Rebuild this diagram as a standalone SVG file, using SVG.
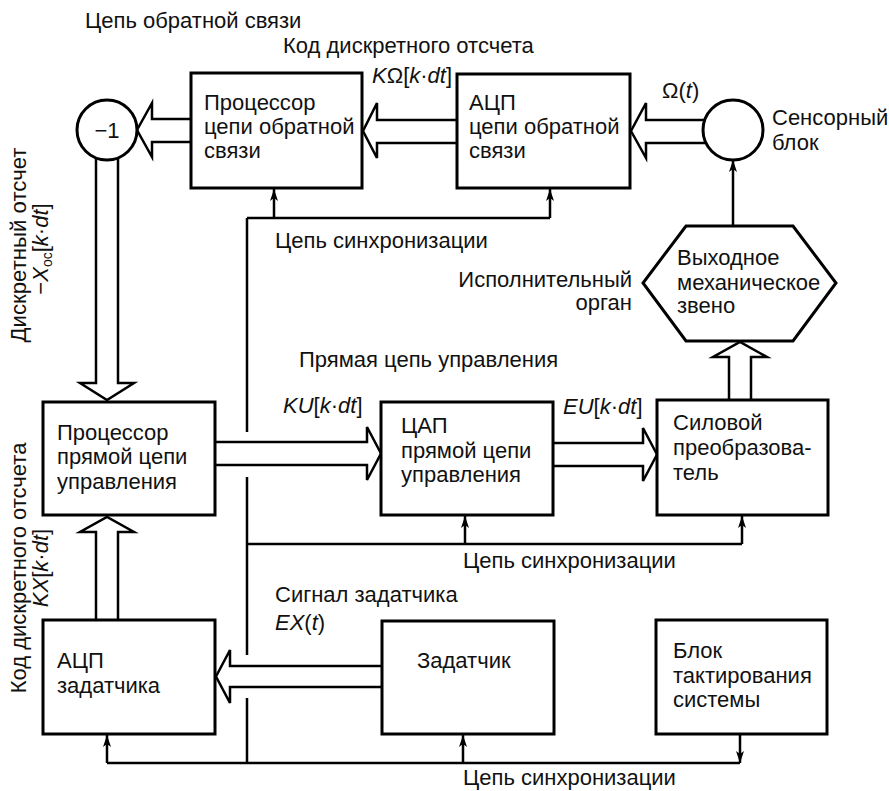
<svg xmlns="http://www.w3.org/2000/svg" width="889" height="791" viewBox="0 0 889 791">
  <style>
    .box { fill: #fff; stroke: #000; stroke-width: 3; }
    .wide { fill: #fff; stroke: #000; stroke-width: 2.5; stroke-linejoin: miter; }
    .sync { fill: none; stroke: #000; stroke-width: 2.5; }
    .tap { fill: none; stroke: #000; stroke-width: 2.5; marker-end: url(#tip); }
    text { font-family: "Liberation Sans", Arial, sans-serif; font-size: 22px; fill: #111; }
    .it { font-style: italic; }
    .sub { font-size: 14px; }
  </style>
  <defs>
    <marker id="tip" viewBox="0 0 12 8" refX="12" refY="4" markerWidth="12" markerHeight="8" orient="auto" markerUnits="userSpaceOnUse">
      <path d="M0,0 L12,4 L0,8 L3,4 z" fill="#000"/>
    </marker>
  </defs>

  <rect width="889" height="791" fill="#fff"/>

  <!-- free labels -->
  <g id="labels">
    <text x="85" y="28">Цепь обратной связи</text>
    <text x="283" y="53">Код дискретного отсчета</text>
    <text x="372" y="83"><tspan class="it">K</tspan>Ω[<tspan class="it">k</tspan>·<tspan class="it">dt</tspan>]</text>
    <text x="662" y="98">Ω(<tspan class="it">t</tspan>)</text>
    <text x="772" y="125">Сенсорный</text>
    <text x="772" y="150">блок</text>
    <text x="275" y="248">Цепь синхронизации</text>
    <text x="632" y="287" text-anchor="end">Исполнительный</text>
    <text x="632" y="310" text-anchor="end">орган</text>
    <text x="299" y="367">Прямая цепь управления</text>
    <text x="283" y="413" class="it">KU<tspan font-style="normal">[</tspan>k<tspan font-style="normal">·</tspan>dt<tspan font-style="normal">]</tspan></text>
    <text x="563" y="414" class="it">EU<tspan font-style="normal">[</tspan>k<tspan font-style="normal">·</tspan>dt<tspan font-style="normal">]</tspan></text>
    <text x="463" y="568">Цепь синхронизации</text>
    <text x="275" y="602">Сигнал задатчика</text>
    <text x="275" y="630" class="it">EX<tspan font-style="normal">(</tspan>t<tspan font-style="normal">)</tspan></text>
    <text x="463" y="785">Цепь синхронизации</text>
    <text transform="translate(26,245) rotate(-90)" text-anchor="middle" textLength="195" lengthAdjust="spacingAndGlyphs">Дискретный отсчет</text>
    <text transform="translate(48,249) rotate(-90)" text-anchor="middle">−<tspan class="it">X</tspan><tspan class="sub" dy="4">ос</tspan><tspan dy="-4">[</tspan><tspan class="it">k</tspan>·<tspan class="it">dt</tspan>]</text>
    <text transform="translate(26,568) rotate(-90)" text-anchor="middle">Код дискретного отсчета</text>
    <text transform="translate(48,568) rotate(-90)" text-anchor="middle"><tspan class="it">KX</tspan>[<tspan class="it">k</tspan>·<tspan class="it">dt</tspan>]</text>
  </g>

  <!-- connectors -->
  <g id="connectors">
    <!-- synchronisation bus -->
    <path class="sync" d="M247 218 V432 M247 477 V655 M247 698 V763 M247 218 H550 M247 544 H742 M107 763 H740"/>
    <path class="tap" d="M274 218 V189"/>
    <path class="tap" d="M550 218 V189"/>
    <path class="tap" d="M465 544 V516"/>
    <path class="tap" d="M742 544 V516"/>
    <path class="tap" d="M107 763 V735"/>
    <path class="tap" d="M463 763 V735"/>
    <path class="tap" d="M740 735 V763"/>
    <!-- actuator to sensor -->
    <path class="tap" d="M733 226 V160"/>
    <!-- wide data arrows -->
    <path class="wide" d="M705 120 H646 V103 L631 131 L646 158 V143 H705"/>
    <path class="wide" d="M457 120 H377 V103 L363 131 L377 158 V143 H457"/>
    <path class="wide" d="M191 119 H152 V103 L137 130 L152 157 V142 H191"/>
    <path class="wide" d="M96 159 V383 H80 L107 400 L134 383 H118 V159"/>
    <path class="wide" d="M96 620 V532 H80 L107 517 L134 532 H118 V620"/>
    <path class="wide" d="M215 442 H367 V427 L381 453.5 L367 480 V465 H215"/>
    <path class="wide" d="M553 443 H643 V428 L657 454.5 L643 481 V466 H553"/>
    <path class="wide" d="M729 400 V357 H713 L740 342 L767 357 H751 V400"/>
    <path class="wide" d="M382 666 H230 V650 L216 676.5 L230 703 V687 H382"/>
  </g>

  <g id="inverter">
    <circle cx="107" cy="130" r="30" class="box"/>
    <text x="107" y="138" text-anchor="middle">−1</text>
  </g>
  <g id="sensor">
    <circle cx="733" cy="130" r="30" class="box"/>
  </g>

  <g id="fb-processor">
    <rect x="191" y="73" width="171" height="115" class="box"/>
    <text x="204" y="110">Процессор</text>
    <text x="204" y="134">цепи обратной</text>
    <text x="204" y="158">связи</text>
  </g>
  <g id="fb-adc">
    <rect x="457" y="74" width="173" height="114" class="box"/>
    <text x="469" y="110">АЦП</text>
    <text x="469" y="134">цепи обратной</text>
    <text x="469" y="158">связи</text>
  </g>
  <g id="output-link">
    <polygon points="686,226 793,226 836,283 793,341 686,341 643,283" class="box"/>
    <text x="677" y="265">Выходное</text>
    <text x="677" y="290">механическое</text>
    <text x="677" y="313">звено</text>
  </g>
  <g id="fw-processor">
    <rect x="43" y="402" width="172" height="113" class="box"/>
    <text x="57" y="440">Процессор</text>
    <text x="57" y="464">прямой цепи</text>
    <text x="57" y="489">управления</text>
  </g>
  <g id="fw-dac">
    <rect x="381" y="402" width="172" height="113" class="box"/>
    <text x="401" y="433">ЦАП</text>
    <text x="401" y="458">прямой цепи</text>
    <text x="401" y="482">управления</text>
  </g>
  <g id="power-converter">
    <rect x="657" y="400" width="171" height="115" class="box"/>
    <text x="673" y="430">Силовой</text>
    <text x="673" y="455">преобразова-</text>
    <text x="673" y="480">тель</text>
  </g>
  <g id="setpoint-adc">
    <rect x="43" y="620" width="172" height="114" class="box"/>
    <text x="57" y="668">АЦП</text>
    <text x="57" y="693">задатчика</text>
  </g>
  <g id="setpoint">
    <rect x="382" y="621" width="172" height="113" class="box"/>
    <text x="417" y="668">Задатчик</text>
  </g>
  <g id="clock">
    <rect x="656" y="620" width="171" height="114" class="box"/>
    <text x="673" y="658">Блок</text>
    <text x="673" y="683">тактирования</text>
    <text x="673" y="707">системы</text>
  </g>
</svg>
